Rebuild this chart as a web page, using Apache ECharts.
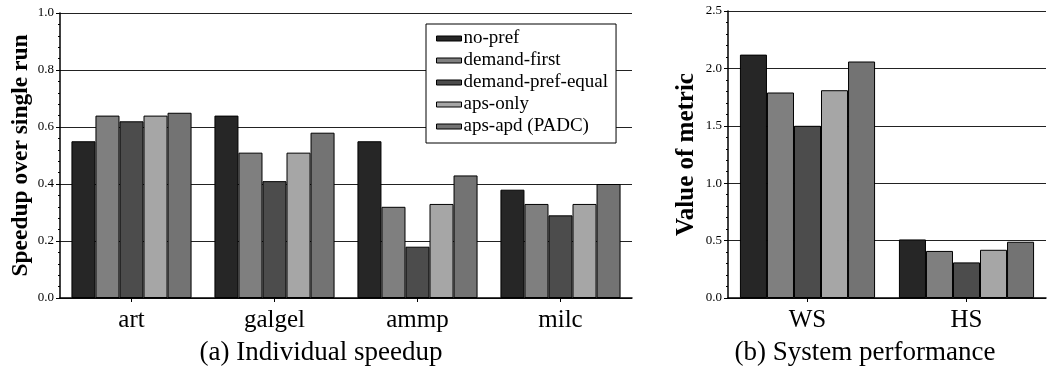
<!DOCTYPE html>
<html>
<head>
<meta charset="utf-8">
<script src="https://cdn.jsdelivr.net/npm/echarts@6/dist/echarts.min.js"></script>
<style>
  html, body { margin: 0; padding: 0; background: #fff; }
  #chart { width: 1047px; height: 367px; }
</style>
</head>
<body>
<div id="chart"></div>
<script>
// Benchmarks and metrics
const benchmarks = ['art', 'galgel', 'ammp', 'milc'];
const metrics = ['WS', 'HS'];

// Policy names (legend order)
const policies = ['no-pref', 'demand-first', 'demand-pref-equal', 'aps-only', 'aps-apd (PADC)'];
const policyColors = ['#262626', '#7f7f7f', '#4c4c4c', '#a6a6a6', '#737373'];

// Individual speedup per benchmark, one array per policy
const speedupNoPref = [0.55, 0.64, 0.55, 0.38];
const speedupDemandFirst = [0.64, 0.51, 0.32, 0.33];
const speedupDemandPrefEqual = [0.62, 0.41, 0.18, 0.29];
const speedupApsOnly = [0.64, 0.51, 0.33, 0.33];
const speedupApsApd = [0.65, 0.58, 0.43, 0.40];

// System performance (WS, HS), one array per policy
const perfNoPref = [2.12, 0.51];
const perfDemandFirst = [1.79, 0.41];
const perfDemandPrefEqual = [1.50, 0.31];
const perfApsOnly = [1.81, 0.42];
const perfApsApd = [2.06, 0.49];

// Axis tick values
const speedupTicks = { min: 0, max: 1.0, interval: 0.2 };
const metricTicks = { min: 0, max: 2.5, interval: 0.5 };

const speedupData = [speedupNoPref, speedupDemandFirst, speedupDemandPrefEqual, speedupApsOnly, speedupApsApd];
const perfData = [perfNoPref, perfDemandFirst, perfDemandPrefEqual, perfApsOnly, perfApsApd];

const serif = '"Liberation Serif", "DejaVu Serif", serif';

function xAxisFor(gridIndex, cats) {
  return {
    type: 'category', gridIndex, data: cats,
    axisLine: { lineStyle: { color: '#000', width: 1.5 } },
    axisTick: { show: true, alignWithLabel: true, inside: false, length: 4, lineStyle: { color: '#000' } },
    axisLabel: { color: '#000', fontFamily: serif, fontSize: 25, margin: 10 },
    splitLine: { show: false }
  };
}

function yAxisFor(gridIndex, ticks, name, nameGap, nameSize) {
  return {
    type: 'value', gridIndex, min: ticks.min, max: ticks.max, interval: ticks.interval,
    name, nameLocation: 'middle', nameGap, nameMoveOverlap: false,
    nameTextStyle: { color: '#000', fontFamily: serif, fontSize: nameSize, fontWeight: 'bold' },
    axisLine: { show: true, lineStyle: { color: '#000', width: 1.5 } },
    axisTick: { show: true, inside: false, length: 4, lineStyle: { color: '#000' } },
    minorTick: { show: true, splitNumber: 5, length: 2, lineStyle: { color: '#000' } },
    axisLabel: {
      color: '#000', fontFamily: serif, fontSize: 13, margin: 6,
      formatter: v => v.toFixed(1)
    },
    splitLine: { show: true, lineStyle: { color: '#222', width: 1 } }
  };
}

const series = [];
policies.forEach((p, i) => {
  series.push({
    name: p, type: 'bar', xAxisIndex: 0, yAxisIndex: 0,
    data: speedupData[i], barGap: '0%', barCategoryGap: '16%',
    itemStyle: { color: policyColors[i], borderColor: '#000', borderWidth: 1 }
  });
});
policies.forEach((p, i) => {
  series.push({
    name: p, type: 'bar', xAxisIndex: 1, yAxisIndex: 1,
    data: perfData[i], barGap: '0%', barCategoryGap: '15%',
    itemStyle: { color: policyColors[i], borderColor: '#000', borderWidth: 1 }
  });
});

const chart = echarts.init(document.getElementById('chart'), null, { renderer: 'canvas' });
chart.setOption({
  animation: false,
  backgroundColor: '#fff',
  grid: [
    { left: 60, right: 415, top: 13, bottom: 69, containLabel: false, outerBoundsMode: 'none' },
    { left: 728, right: 1, top: 11, bottom: 69, containLabel: false, outerBoundsMode: 'none' }
  ],
  xAxis: [xAxisFor(0, benchmarks), xAxisFor(1, metrics)],
  yAxis: [
    yAxisFor(0, speedupTicks, 'Speedup over single run', 27, 23.5),
    yAxisFor(1, metricTicks, 'Value of metric', 29, 25)
  ],
  legend: {
    data: policies,
    orient: 'vertical',
    left: 426, top: 24,
    padding: [5, 8, 7, 10],
    itemGap: 3,
    itemWidth: 25, itemHeight: 5,
    backgroundColor: '#fff',
    borderColor: '#000', borderWidth: 1,
    icon: 'rect',
    itemStyle: { borderColor: '#000', borderWidth: 1 },
    textStyle: { color: '#000', fontFamily: serif, fontSize: 19, lineHeight: 19, padding: [0, 0, 0, -3] }
  },
  graphic: [
    {
      type: 'text', x: 321, y: 353,
      style: { text: '(a) Individual speedup', fill: '#000', font: '27px ' + serif, textAlign: 'center', textVerticalAlign: 'middle' }
    },
    {
      type: 'text', x: 865, y: 353,
      style: { text: '(b) System performance', fill: '#000', font: '27px ' + serif, textAlign: 'center', textVerticalAlign: 'middle' }
    }
  ],
  series
});
</script>
</body>
</html>
